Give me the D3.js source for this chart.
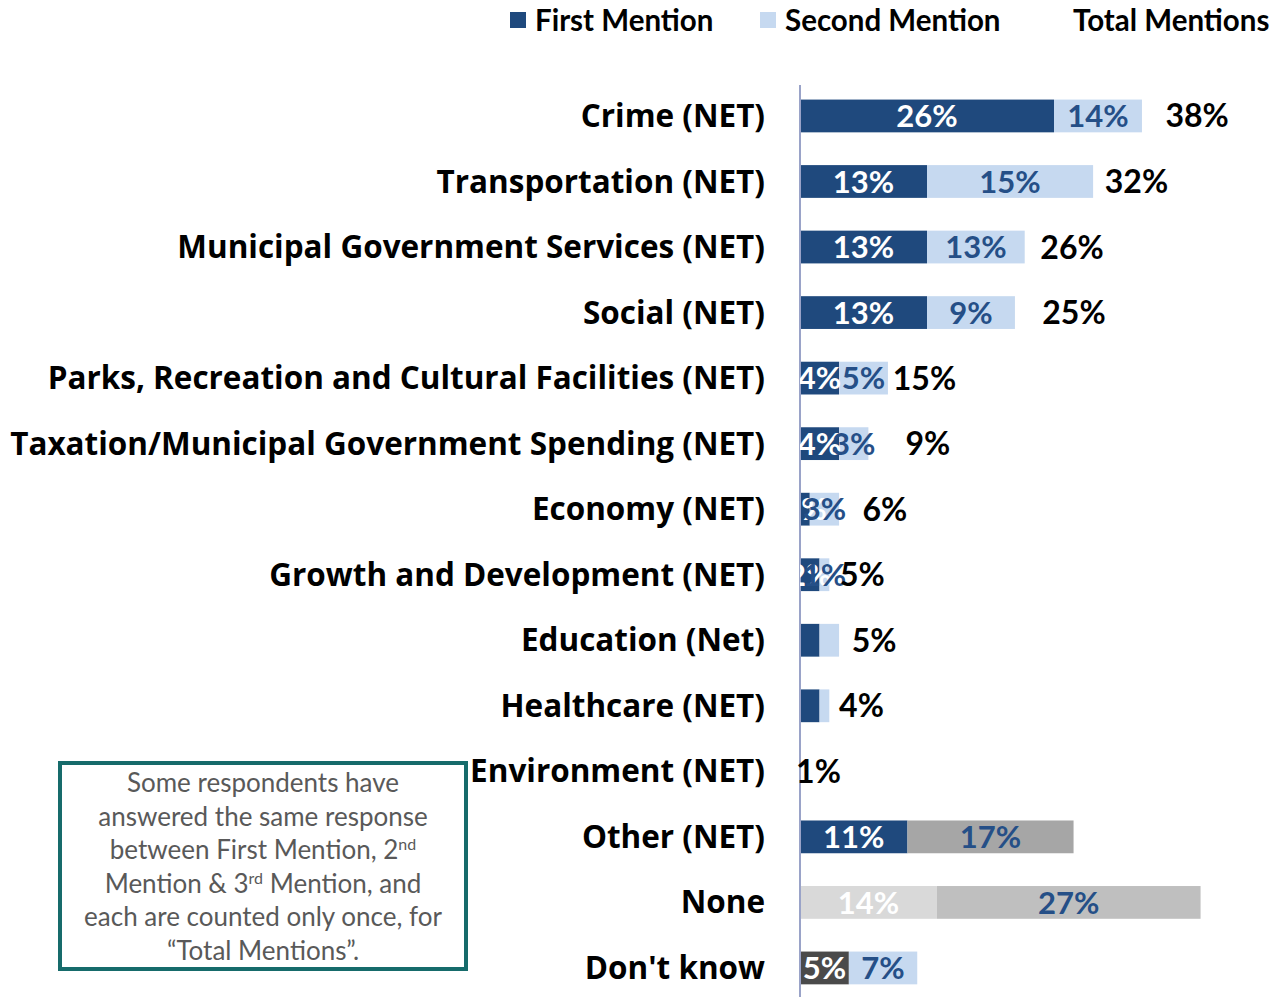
<!DOCTYPE html>
<html>
<head>
<meta charset="utf-8">
<script src="https://cdn.jsdelivr.net/npm/d3@7"></script>
<style>
  body { margin: 0; background: #fff; }
  svg { display: block; font-family: Lato, "Open Sans", sans-serif; }
</style>
</head>
<body>
<div id="chart"></div>
<script>
// data
var categories = [
  "Crime (NET)",
  "Transportation (NET)",
  "Municipal Government Services (NET)",
  "Social (NET)",
  "Parks, Recreation and Cultural Facilities (NET)",
  "Taxation/Municipal Government Spending (NET)",
  "Economy (NET)",
  "Growth and Development (NET)",
  "Education (Net)",
  "Healthcare (NET)",
  "Environment (NET)",
  "Other (NET)",
  "None",
  "Don't know"
];
// bar lengths (%)
var firstMention  = [26, 13, 13, 13, 4, 4, 1, 2, 2, 2, 0, 11, 14, 5];
var secondMention = [9, 17, 10, 9, 5, 3, 3, 1, 2, 1, 0, 17, 27, 7];
// data labels as printed on the chart
var firstLabels  = ["26%", "13%", "13%", "13%", "4%", "4%", "1%", "2%", "", "", "", "11%", "14%", "5%"];
var secondLabels = ["14%", "15%", "13%", "9%", "5%", "3%", "3%", "1%", "", "", "", "17%", "27%", "7%"];
var totalLabels  = ["38%", "32%", "26%", "25%", "15%", "9%", "6%", "5%", "5%", "4%", "1%", "", "", ""];
// invisible spacer segment before the total label (%)
var totalGap = [2.4, 1.2, 1.6, 2.8, 0.5, 3.8, 2.4, 1.1, 1.3, 1.0, -0.4, 0, 0, 0];

var legendItems = ["First Mention", "Second Mention", "Total Mentions"];

var W = 1276, H = 997;
var axisX = 800;

var svg = d3.select("#chart").append("svg")
  .attr("width", W)
  .attr("height", H);

var x = d3.scaleLinear().domain([0, 40]).range([axisX, axisX + 390.8]);
var y = d3.scaleBand().domain(categories).range([66.8, 1017.1]).padding(0.5);

var blue = "#1F497D", light = "#C6D9F0", labelBlue = "#254F87";
var firstColor = function(c) {
  if (c === "None") return "#D9D9D9";
  if (c === "Don't know") return "#4A4A4A";
  return blue;
};
var secondColor = function(c) {
  if (c === "Other (NET)") return "#A6A6A6";
  if (c === "None") return "#BFBFBF";
  return light;
};

var rows = categories.map(function(c, i) {
  return {
    cat: c,
    first: firstMention[i],
    second: secondMention[i],
    fLab: firstLabels[i],
    sLab: secondLabels[i],
    tLab: totalLabels[i],
    gap: totalGap[i]
  };
});

svg.append("defs").append("clipPath").attr("id", "plotClip")
  .append("rect").attr("x", axisX).attr("y", 0).attr("width", W - axisX).attr("height", H);

// bars
var bars = svg.append("g");
bars.selectAll("rect.first").data(rows).enter().append("rect")
  .attr("class", "first")
  .attr("x", x(0))
  .attr("y", d => y(d.cat))
  .attr("width", d => x(d.first) - x(0))
  .attr("height", y.bandwidth())
  .attr("fill", d => firstColor(d.cat));

bars.selectAll("rect.second").data(rows).enter().append("rect")
  .attr("class", "second")
  .attr("x", d => x(d.first))
  .attr("y", d => y(d.cat))
  .attr("width", d => x(d.first + d.second) - x(d.first))
  .attr("height", y.bandwidth())
  .attr("fill", d => secondColor(d.cat));

// axis line
svg.append("line")
  .attr("x1", axisX).attr("x2", axisX)
  .attr("y1", 85).attr("y2", H)
  .attr("stroke", "#9AA3C8")
  .attr("stroke-width", 2);

// category labels, sized so the longest one spans from x=10 to the axis gap
var catLabels = svg.append("g").selectAll("text").data(rows).enter().append("text")
  .attr("x", 765)
  .attr("y", d => y(d.cat) + y.bandwidth() / 2)
  .attr("dy", "0.35em")
  .attr("text-anchor", "end")
  .attr("font-family", "'Open Sans', sans-serif")
  .attr("font-size", 30)
  .attr("font-weight", 700)
  .attr("fill", "#000")
  .text(d => d.cat);
var longest = d3.max(catLabels.nodes(), n => n.getComputedTextLength());
catLabels.attr("font-size", 30 * 755 / longest);

// segment labels
var labs = svg.append("g").attr("clip-path", "url(#plotClip)")
  .attr("font-size", 31).attr("font-weight", 700).attr("text-anchor", "middle");

labs.selectAll("text.f").data(rows.filter(d => d.fLab)).enter().append("text")
  .attr("class", "f")
  .attr("x", d => (x(0) + x(d.first)) / 2)
  .attr("y", d => y(d.cat) + y.bandwidth() / 2)
  .attr("dy", "0.36em")
  .attr("fill", "#fff")
  .text(d => d.fLab);

labs.selectAll("text.s").data(rows.filter(d => d.sLab)).enter().append("text")
  .attr("class", "s")
  .attr("x", d => (x(d.first) + x(d.first + d.second)) / 2)
  .attr("y", d => y(d.cat) + y.bandwidth() / 2)
  .attr("dy", "0.36em")
  .attr("fill", labelBlue)
  .text(d => d.sLab);

// total labels
svg.append("g").selectAll("text").data(rows.filter(d => d.tLab)).enter().append("text")
  .attr("x", d => x(d.first + d.second + d.gap))
  .attr("y", d => y(d.cat) + y.bandwidth() / 2)
  .attr("dy", "0.36em")
  .attr("font-size", 32)
  .attr("font-weight", 700)
  .attr("fill", "#000")
  .text(d => d.tLab);

// legend
var legend = svg.append("g").attr("font-size", 29.5).attr("font-weight", 700);
var legX = [510, 760, 1073];
var legFill = [blue, light, null];
legendItems.forEach(function(t, i) {
  if (legFill[i]) {
    legend.append("rect")
      .attr("x", legX[i]).attr("y", 12)
      .attr("width", 16).attr("height", 16)
      .attr("fill", legFill[i]);
  }
  legend.append("text")
    .attr("x", legFill[i] ? legX[i] + 25 : legX[i])
    .attr("y", 20)
    .attr("dy", "0.36em")
    .attr("fill", "#000")
    .text(t);
});

// note box
var note = svg.append("g");
note.append("rect")
  .attr("x", 60).attr("y", 763)
  .attr("width", 406).attr("height", 206)
  .attr("fill", "#fff")
  .attr("stroke", "#166B6B")
  .attr("stroke-width", 4);

var noteLines = [
  [["Some respondents have", false]],
  [["answered the same response", false]],
  [["between First Mention, 2", false], ["nd", true]],
  [["Mention & 3", false], ["rd", true], [" Mention, and", false]],
  [["each are counted only once, for", false]],
  [["\u201cTotal Mentions\u201d.", false]]
];
noteLines.forEach(function(parts, i) {
  var t = note.append("text")
    .attr("x", 263)
    .attr("y", 792 + i * 33.5)
    .attr("text-anchor", "middle")
    .attr("font-size", 26)
    .attr("fill", "#595959");
  parts.forEach(function(p) {
    var s = t.append("tspan").text(p[0]);
    if (p[1]) s.attr("font-size", 16).attr("baseline-shift", "super");
  });
});
</script>
</body>
</html>
